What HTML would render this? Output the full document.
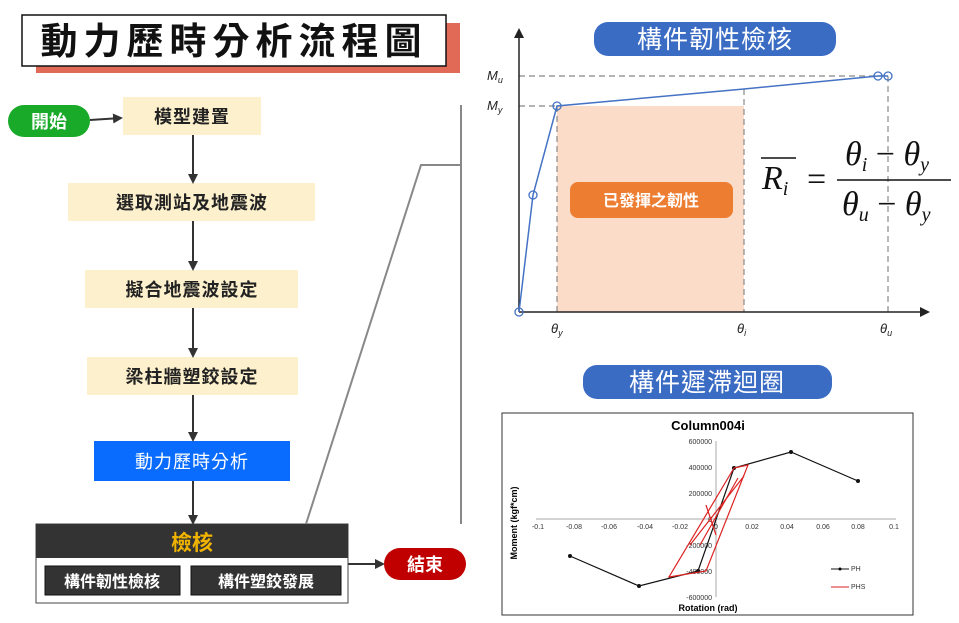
<!DOCTYPE html>
<html><head><meta charset="utf-8"><style>
body{margin:0;background:#fff;width:959px;height:623px;overflow:hidden}
svg{display:block}
.cjk{font-family:"Liberation Sans","Noto Sans CJK TC",sans-serif}
</style></head><body>
<svg width="959" height="623" viewBox="0 0 959 623" xmlns="http://www.w3.org/2000/svg">
<defs>
<marker id="ah" markerWidth="10" markerHeight="10" refX="8" refY="5" orient="auto" markerUnits="userSpaceOnUse"><path d="M0,0 L10,5 L0,10 z" fill="#333"/></marker>
</defs>
<!-- title -->
<rect x="36" y="23" width="424" height="50" fill="#e06a55"/>
<rect x="22" y="15" width="424" height="51" fill="#fff" stroke="#111" stroke-width="1.5"/>
<text x="234" y="54" text-anchor="middle" class="cjk" font-size="37" font-weight="bold" fill="#111" letter-spacing="6">動力歷時分析流程圖</text>
<!-- start -->
<rect x="8" y="105" width="82" height="32" rx="16" fill="#1aaa2a"/>
<text x="49" y="128" text-anchor="middle" class="cjk" font-size="18" font-weight="bold" fill="#fff">開始</text>
<line x1="90" y1="120" x2="121" y2="118" stroke="#333" stroke-width="2" marker-end="url(#ah)"/>
<g class="cjk" font-size="18" font-weight="bold" fill="#222" text-anchor="middle" letter-spacing="1">
<rect x="123" y="97" width="138" height="38" fill="#fdf0cc"/><text x="192" y="123">模型建置</text>
<rect x="68" y="183" width="247" height="38" fill="#fdf0cc"/><text x="192" y="216" dy="-7">選取測站及地震波</text>
<rect x="85" y="270" width="213" height="38" fill="#fdf0cc"/><text x="192" y="296">擬合地震波設定</text>
<rect x="87" y="357" width="211" height="38" fill="#fdf0cc"/><text x="192" y="383">梁柱牆塑鉸設定</text>
<rect x="94" y="441" width="196" height="40" fill="#0a6cff"/><text x="192" y="468" fill="#fff" font-weight="normal">動力歷時分析</text>
</g>
<g stroke="#333" stroke-width="2" marker-end="url(#ah)">
<line x1="193" y1="135" x2="193" y2="182"/>
<line x1="193" y1="221" x2="193" y2="269"/>
<line x1="193" y1="308" x2="193" y2="356"/>
<line x1="193" y1="395" x2="193" y2="440"/>
<line x1="193" y1="481" x2="193" y2="523"/>
</g>
<rect x="36" y="524" width="312" height="79" fill="#fff" stroke="#444"/>
<rect x="36" y="524" width="312" height="34" fill="#333"/>
<text x="192" y="550" text-anchor="middle" class="cjk" font-size="21" font-weight="bold" fill="#f0b400">檢核</text>
<rect x="45" y="566" width="135" height="29" fill="#333" stroke="#111"/>
<rect x="191" y="566" width="150" height="29" fill="#333" stroke="#111"/>
<text x="112" y="587" text-anchor="middle" class="cjk" font-size="16" font-weight="bold" fill="#fff">構件韌性檢核</text>
<text x="266" y="587" text-anchor="middle" class="cjk" font-size="16" font-weight="bold" fill="#fff">構件塑鉸發展</text>
<line x1="348" y1="564" x2="383" y2="564" stroke="#333" stroke-width="2" marker-end="url(#ah)"/>
<rect x="384" y="548" width="82" height="32" rx="16" fill="#c00000"/>
<text x="425" y="571" text-anchor="middle" class="cjk" font-size="18" font-weight="bold" fill="#fff">結束</text>
<!-- bracket -->
<g stroke="#888" stroke-width="2" fill="none">
<line x1="461" y1="105" x2="461" y2="524"/>
<polyline points="461,165 421,165 306,524"/>
</g>
<!-- ductility chart -->
<rect x="557" y="106" width="187" height="206" fill="#fbdcc8"/>
<polygon points="557,106 744,89 744,106" fill="#fff"/>
<g stroke="#888" stroke-width="1.2" stroke-dasharray="6,4">
<line x1="519" y1="76" x2="888" y2="76"/>
<line x1="519" y1="106" x2="557" y2="106"/>
<line x1="557" y1="106" x2="557" y2="312"/>
<line x1="744" y1="89" x2="744" y2="312"/>
<line x1="888" y1="76" x2="888" y2="312"/>
</g>
<line x1="519" y1="312" x2="519" y2="36" stroke="#222" stroke-width="1.5"/>
<path d="M514,38 L519,28 L524,38 z" fill="#222"/>
<line x1="519" y1="312" x2="922" y2="312" stroke="#222" stroke-width="1.5"/>
<path d="M920,307 L930,312 L920,317 z" fill="#222"/>
<polyline points="519,312 533,195 557,106 744,89 878,76 888,76" fill="none" stroke="#4472c4" stroke-width="1.5"/>
<g fill="none" stroke="#4472c4" stroke-width="1.3">
<circle cx="519" cy="312" r="4"/><circle cx="533" cy="195" r="4"/><circle cx="557" cy="106" r="4"/><circle cx="878" cy="76" r="4"/><circle cx="888" cy="76" r="4"/>
</g>
<g font-family="Liberation Sans,sans-serif" font-style="italic" font-size="13" fill="#222">
<text x="487" y="80">M<tspan font-size="9" dy="3">u</tspan></text>
<text x="487" y="110">M<tspan font-size="9" dy="3">y</tspan></text>
<text x="551" y="333">θ<tspan font-size="9" dy="3">y</tspan></text>
<text x="737" y="333">θ<tspan font-size="9" dy="3">i</tspan></text>
<text x="880" y="333">θ<tspan font-size="9" dy="3">u</tspan></text>
</g>
<rect x="594" y="22" width="242" height="34" rx="14" fill="#3b6cc4"/>
<text x="715" y="48" text-anchor="middle" class="cjk" font-size="25" fill="#fff" letter-spacing="1">構件韌性檢核</text>
<rect x="570" y="182" width="163" height="36" rx="8" fill="#ed7d31"/>
<text x="651" y="206" text-anchor="middle" class="cjk" font-size="16" font-weight="bold" fill="#fff">已發揮之韌性</text>
<g font-family="Liberation Serif,serif" font-style="italic" fill="#111">
<line x1="761" y1="158" x2="796" y2="158" stroke="#111" stroke-width="1.5"/>
<text x="762" y="189" font-size="34">R<tspan font-size="20" dy="6">i</tspan></text>
<text x="807" y="190" font-size="34" font-style="normal">=</text>
<line x1="837" y1="180" x2="951" y2="180" stroke="#111" stroke-width="1.5"/>
<text x="845" y="165" font-size="34">θ<tspan font-size="20" dy="6">i</tspan><tspan dy="-6" font-style="normal"> − </tspan>θ<tspan font-size="20" dy="6">y</tspan></text>
<text x="842" y="215" font-size="34">θ<tspan font-size="20" dy="6">u</tspan><tspan dy="-6" font-style="normal"> − </tspan>θ<tspan font-size="20" dy="6">y</tspan></text>
</g>
<!-- hysteresis -->
<rect x="583" y="365" width="249" height="34" rx="14" fill="#3b6cc4"/>
<text x="707" y="391" text-anchor="middle" class="cjk" font-size="25" fill="#fff" letter-spacing="1">構件遲滯迴圈</text>
<rect x="502" y="413" width="411" height="202" fill="#fff" stroke="#333"/>
<text x="708" y="430" text-anchor="middle" font-family="Liberation Sans,sans-serif" font-size="13" font-weight="bold">Column004i</text>
<line x1="536" y1="519" x2="896" y2="519" stroke="#aaa"/>
<line x1="716" y1="441" x2="716" y2="597" stroke="#aaa"/>
<g font-family="Liberation Sans,sans-serif" font-size="7" fill="#333">
<g text-anchor="middle">
<text x="538" y="529">-0.1</text><text x="574" y="529">-0.08</text><text x="609" y="529">-0.06</text><text x="645" y="529">-0.04</text><text x="680" y="529">-0.02</text><text x="716" y="529">0</text><text x="752" y="529">0.02</text><text x="787" y="529">0.04</text><text x="823" y="529">0.06</text><text x="858" y="529">0.08</text><text x="894" y="529">0.1</text>
</g>
<g text-anchor="end">
<text x="712" y="444">600000</text><text x="712" y="470">400000</text><text x="712" y="496">200000</text><text x="712" y="522">0</text><text x="712" y="548">-200000</text><text x="712" y="574">-400000</text><text x="712" y="600">-600000</text>
</g>
<text x="851" y="571">PH</text><text x="851" y="589">PHS</text>
</g>
<line x1="831" y1="569" x2="849" y2="569" stroke="#111"/><circle cx="840" cy="569" r="1.5"/>
<line x1="831" y1="587" x2="849" y2="587" stroke="#d22"/>
<text x="708" y="611" text-anchor="middle" font-family="Liberation Sans,sans-serif" font-size="9" font-weight="bold">Rotation (rad)</text>
<text transform="translate(517,523) rotate(-90)" text-anchor="middle" font-family="Liberation Sans,sans-serif" font-size="9" font-weight="bold">Moment (kgf*cm)</text>
<polyline points="570,556 639,586 698,571 734,468 791,452 858,481" fill="none" stroke="#111" stroke-width="1.2"/>
<g fill="#111"><circle cx="570" cy="556" r="2"/><circle cx="639" cy="586" r="2"/><circle cx="698" cy="571" r="2"/><circle cx="734" cy="468" r="2"/><circle cx="791" cy="452" r="2"/><circle cx="858" cy="481" r="2"/></g>
<g fill="none" stroke="#d22" stroke-width="1.2">
<polygon points="669,577 706,571 748,465 734,468"/>
<line x1="690" y1="545" x2="744" y2="476"/>
<line x1="700" y1="545" x2="738" y2="478"/>
<line x1="706" y1="505" x2="716" y2="535"/>
</g>
</svg>
</body></html>
